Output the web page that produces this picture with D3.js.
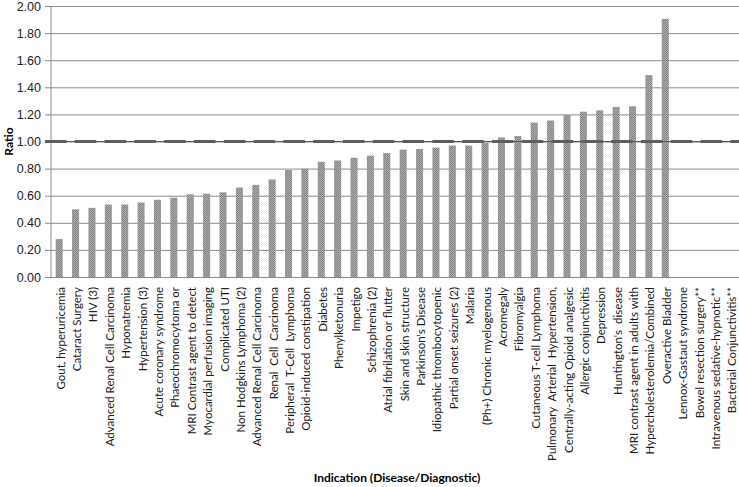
<!DOCTYPE html>
<html>
<head>
<meta charset="utf-8">
<script src="https://cdn.jsdelivr.net/npm/d3@7"></script>
<style>
  body { margin: 0; background: #fff; }
  svg { display: block; font-family: Lato, "Liberation Sans", sans-serif; }
  .xlab { white-space: pre; }
</style>
</head>
<body>
<svg id="svg" width="739" height="487"></svg>
<script>
const categories = [
  'Gout, hyperuricemia', 'Cataract Surgery', 'HIV (3)', 'Advanced Renal Cell Carcinoma',
  'Hyponatremia', 'Hypertension (3)', 'Acute coronary syndrome', 'Phaeochromocytoma or',
  'MRI Contrast agent to detect', 'Myocardial perfusion imaging', 'Complicated UTI',
  'Non Hodgkins Lymphoma (2)', 'Advanced Renal Cell Carcinoma ', 'Renal  Cell  Carcinoma',
  'Peripheral  T-Cell  Lymphoma', 'Opioid-induced constipation', 'Diabetes', 'Phenylketonuria',
  'Impetigo', 'Schizophrenia (2)', 'Atrial fibrilation or flutter', 'Skin and skin structure',
  "Parkinson's Disease", 'Idiopathic thrombocytopenic', 'Partial onset seizures (2)', 'Malaria',
  '(Ph+) Chronic myelogenous', 'Acromegaly', 'Fibromyalgia', 'Cutaneous T-cell Lymphoma',
  'Pulmonary  Arterial  Hypertension,', 'Centrally-acting Opioid analgesic',
  'Allergic conjunctivitis', 'Depression', "Huntington's  disease",
  'MRI contrast agent in adults with', 'Hypercholesterolemia/Combined', 'Overactive Bladder',
  'Lennox-Gastaut syndrome', 'Bowel resection surgery**', 'Intravenous sedative-hypnotic**',
  'Bacterial Conjunctivitis**'
];
const ratios = [
  0.28, 0.50, 0.51, 0.535, 0.535, 0.55, 0.57, 0.585, 0.61, 0.615, 0.625,
  0.66, 0.68, 0.72, 0.79, 0.80, 0.85, 0.86, 0.88, 0.895, 0.915, 0.94,
  0.945, 0.955, 0.97, 0.97, 0.99, 1.03, 1.04, 1.14, 1.155, 1.195,
  1.22, 1.23, 1.255, 1.26, 1.49, 1.905, null, null, null, null
];
const reference = 1.0;
const yTicks = [0, 0.2, 0.4, 0.6, 0.8, 1.0, 1.2, 1.4, 1.6, 1.8, 2.0];

const svg = d3.select('#svg');
const padding = {top: 6, right: 0, bottom: 210, left: 51};
const W = 739, H = 487;

const xScale = d3.scaleBand()
  .domain(categories)
  .range([padding.left, W - padding.right])
  .paddingInner(0.57).paddingOuter(0.285);
const yScale = d3.scaleLinear()
  .domain([0, 2])
  .range([H - padding.bottom, padding.top]);

// hatched bar fill
const defs = svg.append('defs');
const pat = defs.append('pattern')
  .attr('id', 'hatch').attr('patternUnits', 'userSpaceOnUse')
  .attr('width', 2).attr('height', 2);
pat.append('rect').attr('width', 2).attr('height', 2).attr('fill', '#ababab');
pat.append('rect').attr('width', 1).attr('height', 1).attr('fill', '#858585');
pat.append('rect').attr('x', 1).attr('y', 1).attr('width', 1).attr('height', 1).attr('fill', '#858585');

// gridlines + y axis
const yAxis = svg.append('g')
  .attr('transform', 'translate(' + padding.left + ',0)')
  .call(d3.axisLeft(yScale).tickValues(yTicks).tickFormat(d3.format('.2f'))
    .tickSize(-(W - padding.left - padding.right)).tickPadding(10));
yAxis.select('.domain').remove();
yAxis.selectAll('.tick line')
  .attr('stroke', '#8c8c8c').attr('x1', -6);
yAxis.selectAll('.tick text')
  .attr('font-size', 12.5).attr('fill', '#222');

// axis line
svg.append('line')
  .attr('x1', padding.left).attr('x2', padding.left)
  .attr('y1', yScale(2)).attr('y2', yScale(0))
  .attr('stroke', '#8c8c8c');

// bars
svg.append('g').selectAll('rect')
  .data(categories.map((c, i) => ({c: c, v: ratios[i]})).filter(d => d.v != null))
  .enter().append('rect')
  .attr('x', d => xScale(d.c))
  .attr('width', xScale.bandwidth())
  .attr('y', d => yScale(d.v))
  .attr('height', d => yScale(0) - yScale(d.v))
  .attr('fill', 'url(#hatch)');

// reference line at 1.00
svg.append('line')
  .attr('x1', padding.left - 6).attr('x2', W)
  .attr('y1', yScale(reference)).attr('y2', yScale(reference))
  .attr('stroke', '#555').attr('stroke-width', 1);
svg.append('line')
  .attr('x1', padding.left - 6).attr('x2', W)
  .attr('y1', yScale(reference)).attr('y2', yScale(reference))
  .attr('stroke', '#5e5e5e').attr('stroke-width', 3)
  .attr('stroke-dasharray', '21.5 8.3');

// x labels
svg.append('g').selectAll('text')
  .data(categories).enter().append('text')
  .attr('class', 'xlab')
  .attr('transform', d => 'translate(' + (xScale(d) + xScale.bandwidth() / 2 + 1.5) + ',' + (yScale(0) + 10) + ') rotate(-90)')
  .attr('text-anchor', 'end')
  .attr('dy', '0.35em')
  .attr('font-size', 11.5)
  .attr('fill', '#1a1a1a')
  .text(d => d.trim());

// axis titles
svg.append('text')
  .attr('transform', 'translate(13,' + yScale(1) + ') rotate(-90)')
  .attr('text-anchor', 'middle')
  .attr('font-size', 12).attr('font-weight', 'bold')
  .text('Ratio');
svg.append('text')
  .attr('x', 397).attr('y', 482)
  .attr('text-anchor', 'middle')
  .attr('font-size', 12).attr('font-weight', 'bold')
  .text('Indication (Disease/Diagnostic)');
</script>
</body>
</html>
